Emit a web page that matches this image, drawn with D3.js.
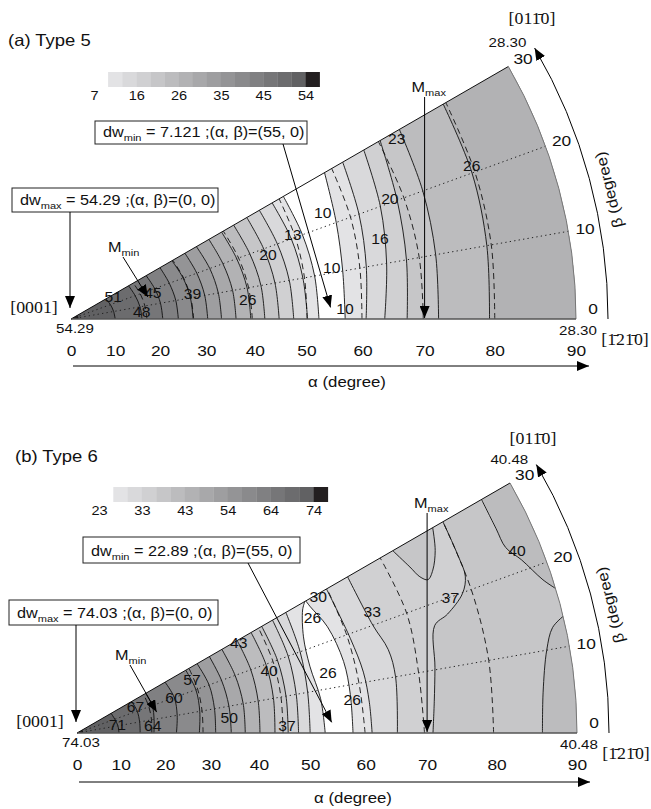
<!DOCTYPE html>
<html>
<head>
<meta charset="utf-8">
<script src="https://cdn.jsdelivr.net/npm/d3@7"></script>
<style>
body { margin: 0; background: #fff; }
svg { display: block; }
</style>
</head>
<body>
<svg id="chart"></svg>
<script>
// chart values
const alphaTicks = [0, 10, 20, 30, 40, 50, 60, 70, 80, 90]
const betaTicks = [0, 10, 20, 30]
const betaGrid = [10, 20]
const grays = ['#ffffff', '#e3e3e5', '#d9d9db', '#d0d0d2', '#c6c6c8', '#bcbcbe', '#b2b2b4', '#a8a8aa',
               '#9e9ea0', '#949496', '#8a8a8c', '#808082', '#767678', '#6c6c6e', '#616163', '#231f20']

// (a) Type 5
const legendA = [7, 16, 26, 35, 45, 54]
const levelsA = [7, 10.13, 13.27, 16.4, 19.53, 22.67, 25.8, 28.93, 32.07, 35.2, 38.33, 41.47, 44.6, 47.73, 50.87, 54]
const dwA = [54.29, 7.121, 28.30]      // max at (0,0), min, value along alpha = 90
const minAtA = [55, 0]
const mMinA = [18, 16]
const mMaxA = [70, 0]
// [level index, side, [[alpha, beta], ...]]
const contoursA = [
  [15, 'in', [[1.6, 0], [1.6, 10], [1.6, 20], [1.6, 30]]],
  [14, 'in', [[10, 0], [9.8, 10], [9.5, 20], [9.1, 30]]],
  [13, 'in', [[16, 0], [15.8, 10], [15.4, 20], [15, 30]]],
  [12, 'in', [[20.6, 0], [20.4, 10], [20, 20], [19.5, 30]]],
  [11, 'in', [[24, 0], [23.8, 10], [23.4, 20], [23, 30]]],
  [10, 'in', [[27.2, 0], [27, 10], [26.6, 20], [26, 30]]],
  [9, 'in', [[30.3, 0], [30.1, 10], [29.7, 20], [29.2, 30]]],
  [8, 'in', [[33.2, 0], [33, 10], [32.6, 20], [32, 30]]],
  [7, 'in', [[36.2, 0], [36, 10], [35.5, 20], [35, 30]]],
  [6, 'in', [[39.2, 0], [39, 10], [38.5, 20], [38, 30]]],
  [5, 'in', [[42, 0], [41.8, 10], [41.3, 20], [40.8, 30]]],
  [4, 'in', [[44.8, 0], [44.6, 10], [44.2, 20], [43.8, 30]]],
  [3, 'in', [[47.6, 0], [47.4, 10], [47, 20], [46.6, 30]]],
  [2, 'in', [[50.2, 0], [50, 10], [49.8, 20], [49.4, 30]]],
  [1, 'in', [[52.3, 0], [52.2, 10], [52, 20], [51.8, 30]]],
  [1, 'out', [[57, 0], [57.3, 10], [58.4, 20], [60.2, 30]]],
  [2, 'out', [[60.6, 0], [61.4, 10], [62.5, 20], [63.7, 30]]],
  [3, 'out', [[63.7, 0], [64.8, 10], [66.2, 20], [67.6, 30]]],
  [4, 'out', [[67.3, 0], [68, 10], [69, 20], [70.5, 30]]],
  [5, 'out', [[72.1, 0], [72.5, 10], [73.1, 20], [73.8, 30]]],
  [6, 'out', [[79.3, 0], [79.8, 10], [80.4, 20], [80.8, 30]]]
]
const dashedA = [
  [[17.1, 0], [16.9, 10], [16.6, 20], [16.2, 30]],
  [[27.3, 0], [27.1, 10], [26.7, 20], [26.2, 30]],
  [[39.5, 0], [39.3, 10], [38.9, 20], [38.4, 30]],
  [[50.1, 0], [50.3, 10], [50.6, 20], [50.9, 30]],
  [[59.9, 0], [60.3, 10], [61, 20], [61.6, 30]],
  [[69.8, 0], [70, 10], [70.1, 20], [70.2, 30]],
  [[80, 0], [80.4, 10], [80.8, 20], [81.2, 30]]
]
const labelsA = [['51', 10.8, 28], ['48', 16, 5.6], ['45', 19.3, 17.6], ['39', 27.6, 11.6], ['26', 38.8, 6.1],
  ['20', 44.6, 18], ['13', 50.3, 20.7], ['10', 56.8, 22.8], ['10', 55.5, 11], ['10', 57, 2],
  ['16', 64.6, 14.5], ['20', 68, 20.6], ['23', 72.8, 29], ['26', 80.7, 20.9]]

// (b) Type 6
const legendB = [23, 33, 43, 54, 64, 74]
const levelsB = [23, 26.4, 29.8, 33.2, 36.6, 40, 43.4, 46.8, 50.2, 53.6, 57, 60.4, 63.8, 67.2, 70.6, 74]
const dwB = [74.03, 22.89, 40.48]
const minAtB = [55, 0]
const mMinB = [18.7, 14.7]
const mMaxB = [70, 0]
const contoursB = [
  [15, 'in', [[1.3, 0], [1.3, 10], [1.3, 20], [1.3, 30]]],
  [14, 'in', [[9.6, 0], [9.5, 10], [9.2, 20], [9, 30]]],
  [13, 'in', [[14.4, 0], [14.5, 10], [14.6, 20], [14.4, 30]]],
  [12, 'in', [[17.5, 0], [17.8, 10], [18.2, 20], [18, 30]]],
  [11, 'in', [[22.5, 0], [23, 10], [23.4, 20], [23, 30]]],
  [10, 'in', [[27.5, 0], [28, 10], [28.4, 20], [28.2, 30]]],
  [9, 'in', [[31, 0], [31.2, 10], [31.4, 20], [31, 30]]],
  [8, 'in', [[34.3, 0], [34.3, 10], [34.2, 20], [34, 30]]],
  [7, 'in', [[37.2, 0], [37.3, 10], [37.2, 20], [37, 30]]],
  [6, 'in', [[40.2, 0], [40.4, 10], [40.6, 20], [40.6, 30]]],
  [5, 'in', [[43.2, 0], [43.5, 10], [43.8, 20], [43.8, 30]]],
  [4, 'in', [[45.8, 0], [46, 10], [46.2, 20], [46.2, 30]]],
  [3, 'in', [[47.8, 0], [48, 10], [48.4, 20], [48.6, 30]]],
  [2, 'in', [[50, 0], [50.2, 10], [50.8, 20], [51.5, 30]]],
  [1, 'in', [[52.8, 0], [52.4, 8], [51.7, 16], [52.4, 23], [54.4, 28.6], [55.5, 30]]],
  [1, 'out', [[57.8, 0], [57.8, 8], [57.8, 15], [57.1, 23], [55.9, 28.4], [55.7, 30]]],
  [2, 'out', [[61.1, 0], [60.9, 6], [60.7, 12], [60.1, 19], [59.9, 30]]],
  [3, 'out', [[65.3, 0], [65.8, 10], [65.6, 15], [64.4, 20], [64, 30]]],
  [4, 'out', [[70.9, 0], [71.3, 5], [72.1, 10.4], [73.5, 16.7], [75.8, 17.8], [78.7, 19.9], [79.9, 22], [80.1, 25], [80.4, 30]]],
  [4, 'top', [[72.2, 30], [73.3, 26.5], [74, 24.5], [74.9, 23.6], [76.1, 24.6], [77.6, 27], [78.8, 30]]],
  [5, 'arc', [[85.9, 0], [86.2, 5], [87.3, 10], [88.5, 12.5], [90, 13.5]]],
  [5, 'corner', [[86.1, 30], [86, 26], [86.1, 23.4], [87.3, 21.3], [88.9, 18.2], [90, 16.8]]]
]
const dashedB = [
  [[17, 0], [17.2, 10], [17.4, 20], [17.5, 30]],
  [[28.3, 0], [28.5, 10], [28.8, 20], [29, 30]],
  [[44.8, 0], [45, 10], [45.3, 20], [45.5, 30]],
  [[59.9, 0], [59.6, 10], [59.7, 20], [60, 30]],
  [[69.6, 0], [69.5, 10], [70.1, 20], [70, 30]],
  [[79.6, 0], [79.8, 10], [80, 20], [80.4, 30]]
]
const labelsB = [['71', 9.4, 11], ['64', 17.3, 5], ['67', 14.6, 24], ['60', 23.3, 19.7], ['57', 28.4, 24.6],
  ['50', 34, 5.6], ['43', 40.6, 29], ['40', 44, 18], ['37', 45.6, 2], ['26', 55.3, 26], ['30', 58, 29.5],
  ['26', 54.6, 13.4], ['26', 58, 6.8], ['33', 65.1, 22.3], ['37', 76.9, 19.9], ['40', 87.2, 22.5]]

// layout
const width = 651
const height = 809
const SANS = '"Liberation Sans", Arial, sans-serif'
const SERIF = '"Liberation Serif", "Times New Roman", serif'
const SX = 1.12

const svg = d3.select('#chart').attr('width', width).attr('height', height)
const defs = svg.append('defs')
defs.append('marker').attr('id', 'arrow')
  .attr('viewBox', '0 0 12 10').attr('refX', 12).attr('refY', 5)
  .attr('markerWidth', 12).attr('markerHeight', 10)
  .attr('markerUnits', 'userSpaceOnUse').attr('orient', 'auto')
  .append('path').attr('d', 'M0,0L12,5L0,10Z').attr('fill', '#000')

const toRad = d => d * Math.PI / 180

function txt(g, x, y, s, o = {}) {
  const t = g.append('text')
    .attr('transform', `translate(${x},${y})${o.rot ? ` rotate(${o.rot})` : ''} scale(${o.sx || SX},1)`)
    .attr('text-anchor', o.anchor || 'middle')
    .attr('font-size', o.size || 14)
    .attr('font-family', o.serif ? SERIF : SANS)
    .attr('fill', '#111')
  if (o.dy) t.attr('dy', o.dy)
  if (s !== null) t.text(s)
  return t
}

function subText(g, x, y, main, sub, rest, size, anchor) {
  const t = txt(g, x, y, null, { size: size, anchor: anchor || 'start' })
  t.append('tspan').text(main)
  t.append('tspan').attr('font-size', size * 0.68).attr('dy', size * 0.3).text(sub)
  if (rest) t.append('tspan').attr('dy', -size * 0.3).text(rest)
  return t
}

function arrowLine(g, x1, y1, x2, y2, cut) {
  const len = Math.hypot(x2 - x1, y2 - y1)
  const f = (len - (cut || 0)) / len
  g.append('line')
    .attr('x1', x1).attr('y1', y1)
    .attr('x2', x1 + (x2 - x1) * f).attr('y2', y1 + (y2 - y1) * f)
    .attr('stroke', '#000').attr('stroke-width', 1)
    .attr('marker-end', 'url(#arrow)')
}

function drawPanel(P, D) {
  const g = svg.append('g')
  const rScale = d3.scaleLinear().domain([0, 1]).range([0, P.R])   // stereographic: r = R tan(alpha/2)
  const rad = a => rScale(Math.tan(toRad(a / 2)))
  const pol = (r, b) => [P.cx + r * Math.cos(toRad(b)), P.cy - r * Math.sin(toRad(b))]
  const proj = ([a, b]) => pol(rad(a), b)
  const line = d3.line().curve(d3.curveCatmullRom.alpha(0.5))

  // wedge
  const wedge = d3.path()
  wedge.moveTo(P.cx, P.cy)
  wedge.lineTo(P.cx + P.R, P.cy)
  wedge.arc(P.cx, P.cy, P.R, 0, -toRad(30), true)
  wedge.closePath()
  defs.append('clipPath').attr('id', P.id + '-clip').append('path').attr('d', wedge.toString())
  const plot = g.append('g').attr('clip-path', `url(#${P.id}-clip)`)
  plot.append('path').attr('d', wedge.toString()).attr('fill', grays[0])

  // filled bands: paint each region above a level, lowest level first
  const big = P.R * 1.4
  const closing = (side, pts) => {
    const f = pts[0], l = pts[pts.length - 1]
    if (side === 'in') return [[P.cx, P.cy]]
    if (side === 'out') return [pol(big, l[1]), pol(big, -10), pol(rad(f[0]), -10)]
    if (side === 'top') return [pol(rad(l[0]), 40), pol(rad(f[0]), 40)]
    if (side === 'corner') return [pol(big, l[1]), pol(big, 40), pol(rad(f[0]), 40)]
    return [pol(big, l[1]), pol(big, -10), pol(rad(f[0]), -10)]
  }
  const sorted = D.contours.slice().sort((a, b) => a[0] - b[0])
  sorted.forEach(([k, side, pts]) => {
    let d = line(pts.map(proj))
    closing(side, pts).forEach(p => { d += `L${p[0]},${p[1]}` })
    plot.append('path').attr('d', d + 'Z').attr('fill', grays[k])
  })
  // contour lines
  D.contours.forEach(([k, side, pts]) => {
    plot.append('path').attr('d', line(pts.map(proj)))
      .attr('fill', 'none').attr('stroke', '#111').attr('stroke-width', 0.9)
  })
  D.dashed.forEach(pts => {
    plot.append('path').attr('d', line(pts.map(proj)))
      .attr('fill', 'none').attr('stroke', '#111').attr('stroke-width', 0.9)
      .attr('stroke-dasharray', '6,4')
  })
  // dotted beta grid
  betaGrid.forEach(b => {
    const p = pol(P.R, b)
    g.append('line').attr('x1', P.cx).attr('y1', P.cy).attr('x2', p[0]).attr('y2', p[1])
      .attr('stroke', '#222').attr('stroke-width', 1).attr('stroke-dasharray', '1.3,3.2')
  })
  // borders
  const top = pol(P.R, 30)
  g.append('line').attr('x1', P.cx).attr('y1', P.cy).attr('x2', top[0]).attr('y2', top[1])
    .attr('stroke', '#111').attr('stroke-width', 1)
  const outer = d3.path()
  outer.moveTo(P.cx + P.R, P.cy)
  outer.arc(P.cx, P.cy, P.R, 0, -toRad(30), true)
  g.append('path').attr('d', outer.toString()).attr('fill', 'none').attr('stroke', '#777').attr('stroke-width', 1)
  g.append('line').attr('x1', P.cx).attr('y1', P.cy).attr('x2', P.cx + P.R).attr('y2', P.cy)
    .attr('stroke', '#555').attr('stroke-width', 1.6)

  // contour labels
  D.labels.forEach(([s, a, b]) => {
    const p = proj([a, b])
    txt(g, p[0], p[1], s, { size: 14, dy: '0.36em' })
  })

  // title
  txt(g, P.title[0], P.title[1], D.title, { size: 16.5, anchor: 'start' })

  // colour bar
  const bar = g.append('g')
  grays.forEach((c, i) => {
    bar.append('rect').attr('x', P.barX + i * P.segW).attr('y', P.barY)
      .attr('width', P.segW + 0.3).attr('height', P.barH).attr('fill', c)
  })
  const legScale = d3.scalePoint().domain(D.legend).range([P.barX, P.barX + 15 * P.segW])
  const legAxis = bar.append('g').attr('transform', `translate(0,${P.barY + P.barH + 4})`)
    .call(d3.axisBottom(legScale).tickSize(0).tickPadding(0))
  legAxis.select('.domain').remove()
  legAxis.selectAll('text').attr('font-size', 13).attr('font-family', SANS).attr('fill', '#111')
    .attr('transform', `scale(${SX},1)`)

  // alpha axis
  const xScale = d3.scaleLinear().domain(alphaTicks).range(alphaTicks.map(a => P.cx + rad(a)))
  const xAxis = g.append('g').attr('transform', `translate(0,${P.axisY})`)
    .call(d3.axisBottom(xScale).tickValues(alphaTicks).tickSize(0).tickPadding(0).tickFormat(d3.format('d')))
  xAxis.select('.domain').remove()
  xAxis.selectAll('text').attr('font-size', 15.5).attr('font-family', SANS).attr('fill', '#111')
    .attr('transform', `scale(${SX},1)`)
  arrowLine(g, P.cx + 2, P.arrowY, P.cx + P.R + 13, P.arrowY)
  txt(g, P.cx + 276, P.arrowY + 21, '\u03b1 (degree)', { size: 15 })

  // beta axis
  const bArc = d3.path()
  bArc.moveTo(P.cx + P.R + 32, P.cy)
  bArc.arc(P.cx, P.cy, P.R + 32, 0, -toRad(30.3), true)
  g.append('path').attr('d', bArc.toString()).attr('fill', 'none').attr('stroke', '#000').attr('stroke-width', 1)
    .attr('marker-end', 'url(#arrow)')
  betaTicks.forEach(b => {
    const p = pol(P.R + 17, b)
    txt(g, p[0], p[1] - (b === 0 ? 11 : 0), String(b), { size: 15.5, dy: '0.36em' })
  })
  const bl = pol(P.R + 48, 13.5)
  txt(g, bl[0], bl[1], '\u03b2 (degree)', { size: 15, rot: -104, dy: '0.36em' })

  // values at corners and directions
  txt(g, P.cx + 4, P.cy + 14, d3.format('.2f')(D.dw[0]), { size: 13.5 })
  txt(g, P.cx + P.R + 2, P.cy + 16, d3.format('.2f')(D.dw[2]), { size: 13.5 })
  const tc = pol(P.R + 12, 32.4)
  txt(g, tc[0], tc[1], d3.format('.2f')(D.dw[2]), { size: 13.5, dy: '0.36em' })
  txt(g, P.cx - 37, P.cy - 6, '[0001]', { size: 17.5, serif: true, sx: 1.02 })
  txt(g, P.cx + P.R - 44, P.top1Y, '[011\u03040]', { size: 17.5, serif: true, sx: 1.02 })
  txt(g, P.cx + P.R + 49, P.cy + 26, '[1\u030421\u03040]', { size: 17.5, serif: true, sx: 1.02 })

  // boxes
  const bx = P.maxBox
  g.append('rect').attr('x', bx[0]).attr('y', bx[1]).attr('width', bx[2]).attr('height', bx[3])
    .attr('fill', '#fff').attr('stroke', '#222').attr('stroke-width', 1)
  subText(g, bx[0] + 8, bx[1] + bx[3] - 7, 'dw', 'max',
    ` = ${d3.format('.2f')(D.dw[0])} ;(\u03b1, \u03b2)=(0, 0)`, 14.5)
  arrowLine(g, P.cx - 1, bx[1] + bx[3], P.cx - 1, P.cy, 11)

  const mb = P.minBox
  g.append('rect').attr('x', mb[0]).attr('y', mb[1]).attr('width', mb[2]).attr('height', mb[3])
    .attr('fill', '#fff').attr('stroke', '#222').attr('stroke-width', 1)
  subText(g, mb[0] + 8, mb[1] + mb[3] - 7, 'dw', 'min',
    ` = ${D.dw[1]} ;(\u03b1, \u03b2)=(${D.minAt[0]}, ${D.minAt[1]})`, 14.5)
  const mt = proj(D.minAt)
  arrowLine(g, P.minFrom[0], P.minFrom[1], mt[0], mt[1], 12)

  // M markers
  const mx = proj(D.mMax)
  subText(g, mx[0] - 13, P.mMaxY, 'M', 'max', null, 14.5)
  arrowLine(g, mx[0], P.mMaxY + 5, mx[0], mx[1], 1)
  const mn = proj(D.mMin)
  subText(g, P.mMinXY[0], P.mMinXY[1], 'M', 'min', null, 14.5)
  arrowLine(g, P.mMinXY[0] + 15, P.mMinXY[1] + 5, mn[0], mn[1])
}

drawPanel(
  { id: 'a', cx: 71, cy: 319, R: 505, title: [8, 46], barX: 94, barY: 72, barH: 15, segW: 14.1,
    axisY: 345, arrowY: 366, top1Y: 24, maxBox: [12, 188, 206, 24], minBox: [95, 121, 212, 23],
    minFrom: [283, 144], mMaxY: 92, mMinXY: [108, 252] },
  { title: '(a) Type 5', legend: legendA, levels: levelsA, dw: dwA, minAt: minAtA, mMin: mMinA, mMax: mMaxA,
    contours: contoursA, dashed: dashedA, labels: labelsA })

drawPanel(
  { id: 'b', cx: 77, cy: 733, R: 500, title: [15, 462], barX: 99, barY: 487, barH: 15, segW: 14.3,
    axisY: 759, arrowY: 782, top1Y: 444, maxBox: [9, 600, 209, 25], minBox: [83, 537, 217, 26],
    minFrom: [248, 563], mMaxY: 508, mMinXY: [115, 660] },
  { title: '(b) Type 6', legend: legendB, levels: levelsB, dw: dwB, minAt: minAtB, mMin: mMinB, mMax: mMaxB,
    contours: contoursB, dashed: dashedB, labels: labelsB })
</script>
</body>
</html>
